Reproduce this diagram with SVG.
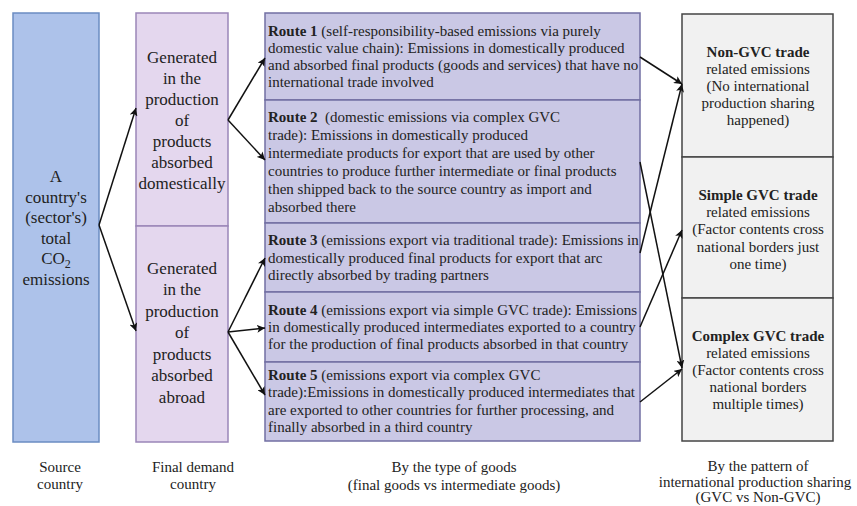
<svg xmlns="http://www.w3.org/2000/svg" width="857" height="506" viewBox="0 0 857 506">
<defs>
<marker id="ah" viewBox="0 0 10 10" refX="10" refY="5" markerWidth="8" markerHeight="8" markerUnits="userSpaceOnUse" orient="auto">
<path d="M0,0 L10,5 L0,10 L2.5,5 Z" fill="#111"/>
</marker>
<style>
text{font-family:"Liberation Serif","Times New Roman",serif;fill:#222;}
.big{font-size:17px;text-anchor:middle;}
.rt{font-size:15px;}
.ct{font-size:15px;text-anchor:middle;}
.b{font-weight:bold;}
.lbl{font-size:15px;text-anchor:middle;}
.conn line{stroke:#111;stroke-width:1.5;fill:none;}
</style>
</defs>
<rect width="857" height="506" fill="#fff"/>

<g id="source">
<rect x="13" y="13" width="86" height="429" fill="#adc2ea" stroke="#6b8cc2" stroke-width="1.5"/>
<text class="big" x="56" y="182">A</text>
<text class="big" x="56" y="202.5">country's</text>
<text class="big" x="56" y="223">(sector's)</text>
<text class="big" x="56" y="243.5">total</text>
<text class="big" x="56" y="264">CO<tspan font-size="12" dy="4">2</tspan></text>
<text class="big" x="56" y="285">emissions</text>
</g>

<g id="fd-domestic">
<rect x="136" y="13" width="92" height="213" fill="#e4d7ee" stroke="#9a86b8" stroke-width="1.5"/>
<text class="big" x="182" y="63">Generated</text>
<text class="big" x="182" y="84">in the</text>
<text class="big" x="182" y="105">production</text>
<text class="big" x="182" y="126">of</text>
<text class="big" x="182" y="147">products</text>
<text class="big" x="182" y="168">absorbed</text>
<text class="big" x="182" y="189">domestically</text>
</g>

<g id="fd-abroad">
<rect x="136" y="226" width="92" height="216" fill="#e4d7ee" stroke="#9a86b8" stroke-width="1.5"/>
<text class="big" x="182" y="274">Generated</text>
<text class="big" x="182" y="295">in the</text>
<text class="big" x="182" y="316.5">production</text>
<text class="big" x="182" y="338">of</text>
<text class="big" x="182" y="359.5">products</text>
<text class="big" x="182" y="381">absorbed</text>
<text class="big" x="182" y="402.5">abroad</text>
</g>

<g id="route1">
<rect x="265" y="13" width="375" height="87" fill="#cac8e5" stroke="#726fa2" stroke-width="1.5"/>
<text class="rt" x="268" y="36"><tspan class="b">Route 1</tspan> (self-responsibility-based emissions via purely</text>
<text class="rt" x="268" y="53">domestic value chain): Emissions in domestically produced</text>
<text class="rt" x="268" y="70">and absorbed final products (goods and services) that have no</text>
<text class="rt" x="268" y="87">international trade involved</text>
</g>

<g id="route2">
<rect x="265" y="100" width="375" height="123" fill="#cac8e5" stroke="#726fa2" stroke-width="1.5"/>
<text class="rt" x="268" y="122"><tspan class="b">Route 2</tspan>&#160; (domestic emissions via complex GVC</text>
<text class="rt" x="268" y="140">trade): Emissions in domestically produced</text>
<text class="rt" x="268" y="158">intermediate products for export that are used by other</text>
<text class="rt" x="268" y="176">countries to produce further intermediate or final products</text>
<text class="rt" x="268" y="194">then shipped back to the source country as import and</text>
<text class="rt" x="268" y="212">absorbed there</text>
</g>

<g id="route3">
<rect x="265" y="223" width="375" height="69" fill="#cac8e5" stroke="#726fa2" stroke-width="1.5"/>
<text class="rt" x="268" y="245"><tspan class="b">Route 3</tspan> (emissions export via traditional trade): Emissions in</text>
<text class="rt" x="268" y="263">domestically produced final products for export that arc</text>
<text class="rt" x="268" y="280">directly absorbed by trading partners</text>
</g>

<g id="route4">
<rect x="265" y="292" width="375" height="70" fill="#cac8e5" stroke="#726fa2" stroke-width="1.5"/>
<text class="rt" x="268" y="315"><tspan class="b">Route 4</tspan> (emissions export via simple GVC trade): Emissions</text>
<text class="rt" x="268" y="332">in domestically produced intermediates exported to a country</text>
<text class="rt" x="268" y="349">for the production of final products absorbed in that country</text>
</g>

<g id="route5">
<rect x="265" y="362" width="375" height="79" fill="#cac8e5" stroke="#726fa2" stroke-width="1.5"/>
<text class="rt" x="268" y="380"><tspan class="b">Route 5</tspan> (emissions export via complex GVC</text>
<text class="rt" x="268" y="397">trade):Emissions in domestically produced intermediates that</text>
<text class="rt" x="268" y="415">are exported to other countries for further processing, and</text>
<text class="rt" x="268" y="432">finally absorbed in a third country</text>
</g>

<g id="non-gvc">
<rect x="682" y="14" width="151" height="143" fill="#f1f1f1" stroke="#444" stroke-width="1.5"/>
<text class="ct b" x="758" y="57">Non-GVC trade</text>
<text class="ct" x="758" y="74">related emissions</text>
<text class="ct" x="758" y="91">(No international</text>
<text class="ct" x="758" y="108">production sharing</text>
<text class="ct" x="758" y="125">happened)</text>
</g>

<g id="simple-gvc">
<rect x="682" y="157" width="151" height="141" fill="#f1f1f1" stroke="#444" stroke-width="1.5"/>
<text class="ct b" x="758" y="200">Simple GVC trade</text>
<text class="ct" x="758" y="217">related emissions</text>
<text class="ct" x="758" y="234">(Factor contents cross</text>
<text class="ct" x="758" y="251.5">national borders just</text>
<text class="ct" x="758" y="269">one time)</text>
</g>

<g id="complex-gvc">
<rect x="682" y="298" width="151" height="143" fill="#f1f1f1" stroke="#444" stroke-width="1.5"/>
<text class="ct b" x="758" y="341">Complex GVC trade</text>
<text class="ct" x="758" y="358">related emissions</text>
<text class="ct" x="758" y="375">(Factor contents cross</text>
<text class="ct" x="758" y="392">national borders</text>
<text class="ct" x="758" y="409">multiple times)</text>
</g>

<g id="connectors" class="conn">
<line x1="99" y1="225" x2="136" y2="108" marker-end="url(#ah)"/>
<line x1="99" y1="225" x2="136" y2="331" marker-end="url(#ah)"/>
<line x1="228" y1="120" x2="265" y2="58" marker-end="url(#ah)"/>
<line x1="228" y1="120" x2="265" y2="160" marker-end="url(#ah)"/>
<line x1="228" y1="332" x2="265" y2="258" marker-end="url(#ah)"/>
<line x1="228" y1="332" x2="265" y2="328" marker-end="url(#ah)"/>
<line x1="228" y1="332" x2="265" y2="395" marker-end="url(#ah)"/>
<line x1="640" y1="57" x2="682" y2="84" marker-end="url(#ah)"/>
<line x1="640" y1="162" x2="682" y2="368" marker-end="url(#ah)"/>
<line x1="640" y1="253" x2="682" y2="84" marker-end="url(#ah)"/>
<line x1="640" y1="327" x2="682" y2="230" marker-end="url(#ah)"/>
<line x1="640" y1="402" x2="682" y2="369" marker-end="url(#ah)"/>
</g>

<g id="labels">
<text class="lbl" x="60" y="472">Source</text>
<text class="lbl" x="60" y="489">country</text>
<text class="lbl" x="193" y="472">Final demand</text>
<text class="lbl" x="193" y="489">country</text>
<text class="lbl" x="454" y="472">By the type of goods</text>
<text class="lbl" x="454" y="490">(final goods vs intermediate goods)</text>
<text class="lbl" x="758" y="471">By the pattern of</text>
<text class="lbl" x="755" y="487">international production sharing</text>
<text class="lbl" x="758" y="502">(GVC vs Non-GVC)</text>
</g>
</svg>
